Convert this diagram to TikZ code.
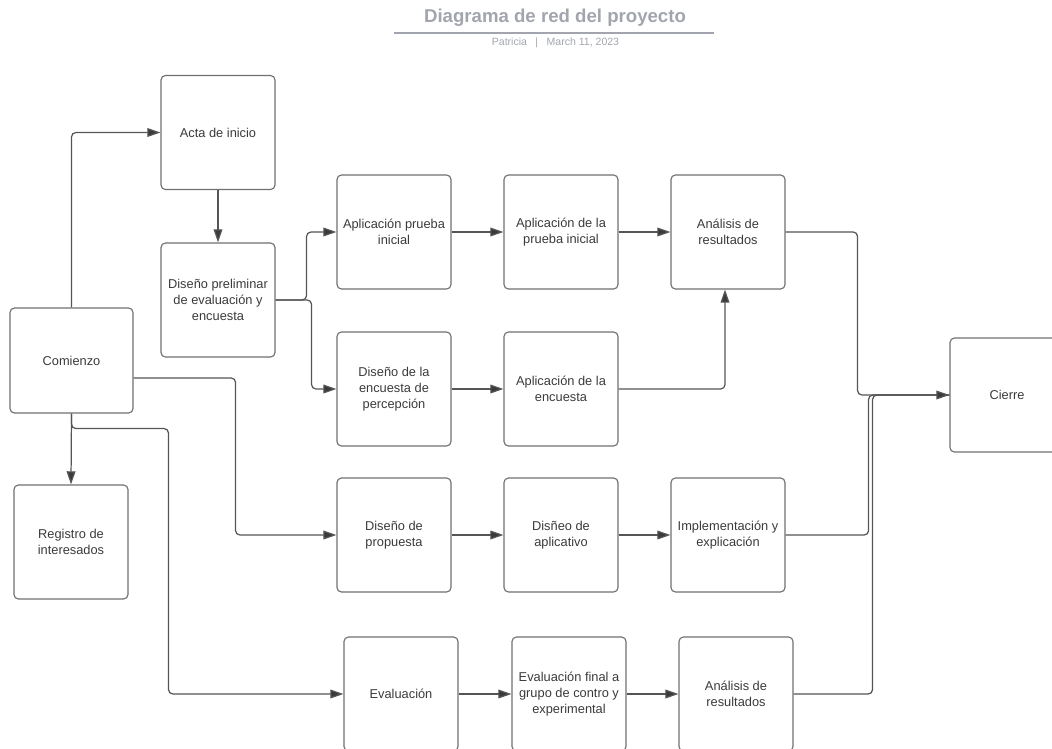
\documentclass[tikz,border=0pt]{standalone}
\definecolor{Box}{RGB}{112,112,112}
\definecolor{Ink}{RGB}{58,58,58}
\definecolor{Link}{RGB}{85,85,85}
\definecolor{Head}{RGB}{162,165,174}
\usepackage{fontspec}
\setmainfont{Liberation Sans}
\usepackage{tikz}
\usetikzlibrary{arrows.meta,positioning,calc}

\begin{document}
\begin{tikzpicture}[x=0.02cm,y=-0.02cm,
  task/.style={draw=Box,line width=0.65pt,rounded corners=2.5pt,minimum width=2.28cm,minimum height=2.28cm,
    align=center,inner sep=2pt,text=Ink,font=\fontsize{7.3}{9.1}\selectfont},
  link/.style={draw=Link,line width=0.7pt,rounded corners=2.5pt,-{Triangle[length=7.5pt,width=5pt,fill=Ink,sharp]}},
  wire/.style={draw=Link,line width=0.7pt,rounded corners=2.5pt}]
  \useasboundingbox (0,0) rectangle (1052,748);

  % header
  \node[text=Head,font=\fontsize{10.6}{12}\selectfont\bfseries] (titulo) at (555,18) {Diagrama de red del proyecto};
  \draw[Head,line width=0.8pt] (394,33) -- (714,33);
  \node[text=Head,font=\fontsize{6}{7}\selectfont] (autor) at (555.5,43) {Patricia\hspace{4.8pt}|\hspace{4.8pt}March 11, 2023};

  % tasks
  \node[task,minimum width=2.46cm,minimum height=2.1cm] (comienzo) at (71.5,360.5) {Comienzo};
  \node[task] (acta) at (218,132.5) {Acta de inicio};
  \node[task] (prelim) at (218,300) {Diseño preliminar\\de evaluación y\\encuesta};
  \node[task] (registro) at (71,542) {Registro de\\interesados};
  \node[task] (apinicial) at (394,232) {Aplicación prueba\\inicial};
  \node[task] (appinicial) at (561,232) {Aplicación de la\\prueba inicial};
  \node[task] (analisis1) at (728,232) {Análisis de\\resultados};
  \node[task] (encuesta) at (394,389) {Diseño de la\\encuesta de\\percepción};
  \node[task] (apencuesta) at (561,389) {Aplicación de la\\encuesta};
  \node[task] (propuesta) at (394,535) {Diseño de\\propuesta};
  \node[task] (aplicativo) at (561,535) {Disñeo de\\aplicativo};
  \node[task] (implementa) at (728,535) {Implementación y\\explicación};
  \node[task] (evaluacion) at (401,694) {Evaluación};
  \node[task] (evalfinal) at (569,694) {Evaluación final a\\grupo de contro y\\experimental};
  \node[task] (analisis2) at (736,694) {Análisis de\\resultados};
  \node[task] (cierre) at (1007,395) {Cierre};

  % links
  \draw[link] (comienzo.north) |- (acta.west);
  \draw[link] (acta) -- (prelim);
  \draw[link] (prelim.east) -- ++(31,0) |- (apinicial.west);
  \draw[link] (prelim.east) -- ++(36,0) |- (encuesta.west);
  \draw[link] (apinicial) -- (appinicial);
  \draw[link] (appinicial) -- (analisis1);
  \draw[link] (encuesta) -- (apencuesta);
  \draw[link] (apencuesta.east) -| ([xshift=-0.06cm]analisis1.south);
  \draw[link] ([yshift=-0.35cm]comienzo.east) -- ++(102,0) |- (propuesta.west);
  \draw[link] (comienzo.south) -- (registro.north);
  \draw[link] (comienzo.south) |- ++(97,15) |- (evaluacion.west);
  \draw[link] (propuesta) -- (aplicativo);
  \draw[link] (aplicativo) -- (implementa);
  \draw[link] (evaluacion) -- (evalfinal);
  \draw[link] (evalfinal) -- (analisis2);
  \draw[wire] (implementa.east) -- ++(83,0) |- (cierre.west);
  \draw[wire] (analisis2.east) -- ++(79,0) |- (cierre.west);
  \draw[link] (analisis1.east) -- ++(72,0) |- (cierre.west);
\end{tikzpicture}
\end{document}
